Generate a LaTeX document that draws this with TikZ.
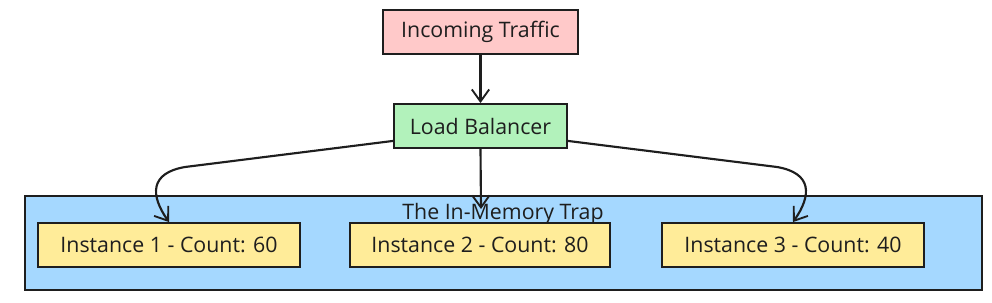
\documentclass[tikz,border=0pt]{standalone}
\usepackage{fontspec}
\setmainfont{Open Sans}
\usetikzlibrary{arrows.meta,calc}
\definecolor{ink}{HTML}{1E1E1E}
\definecolor{pinkf}{HTML}{FFC9C9}
\definecolor{greenf}{HTML}{B2F2BB}
\definecolor{bluef}{HTML}{A5D8FF}
\definecolor{yellowf}{HTML}{FFEC99}
\tikzset{
  box/.style={draw=ink, line width=1.4pt, minimum height=33pt, inner sep=0pt,
    font=\fontsize{16}{18}\selectfont, text=ink},
  conn/.style={draw=ink, line width=1.6pt, -{Straight Barb[length=9pt,width=13pt,line width=1.4pt]}},
}
\begin{document}
\begin{tikzpicture}[x=0.75pt,y=-0.75pt]
\useasboundingbox (0,0) rectangle (992,303);
\node[draw=ink, line width=1.4pt, fill=bluef, minimum width=957*0.75pt, minimum height=94*0.75pt, inner sep=0pt] (cl) at (503.5,243) {};
\node[font=\fontsize{16}{18}\selectfont, text=ink] (cllab) at (503,214) {The In-Memory Trap};
\node[box, fill=pinkf, minimum width=195*0.75pt] (it) at (480.5,32) {Incoming Traffic};
\node[box, fill=greenf, minimum width=173*0.75pt] (lb) at (480.5,126) {Load Balancer};
\node[box, fill=yellowf, minimum width=262*0.75pt] (i1) at (169,245) {Instance 1 - Count: 60};
\node[box, fill=yellowf, minimum width=260*0.75pt] (i2) at (480,245) {Instance 2 - Count: 80};
\node[box, fill=yellowf, minimum width=262*0.75pt] (i3) at (793,245) {Instance 3 - Count: 40};
\coordinate (c2) at (481,209);
\draw[conn] (it.south) -- (lb.north);
\draw[conn] (lb.south) -- (c2);
\draw[conn] ([yshift=6pt]lb.south west) -- (185,167) .. controls (150,173) and (150,195) .. (i1.north);
\draw[conn] ([yshift=6pt]lb.south east) -- (777,167) .. controls (812,173) and (812,195) .. (i3.north);
\end{tikzpicture}
\end{document}
